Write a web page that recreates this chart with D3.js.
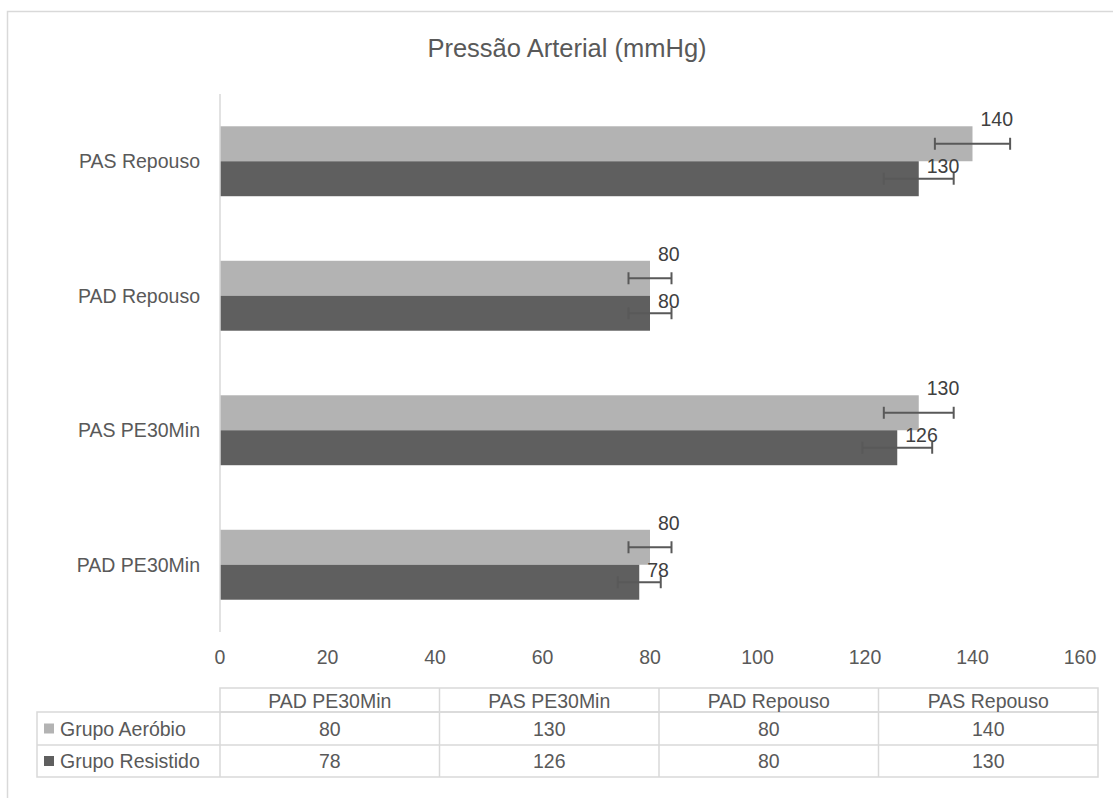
<!DOCTYPE html>
<html>
<head>
<meta charset="utf-8">
<script src="https://cdn.jsdelivr.net/npm/d3@7"></script>
<style>
  html, body { margin: 0; padding: 0; background: #fff; }
  svg { display: block; font-family: "Liberation Sans", Arial, sans-serif; }
</style>
</head>
<body>
<svg id="chart" width="1113" height="798"></svg>
<script>
// ---- Data (Excel category order: bottom to top in the chart, left to right in the table) ----
const categories = ["PAD PE30Min", "PAS PE30Min", "PAD Repouso", "PAS Repouso"];
const seriesNames = ["Grupo Aeróbio", "Grupo Resistido"];
const aerobio = [80, 130, 80, 140];
const resistido = [78, 126, 80, 130];
const errAerobio = [4, 6.5, 4, 7];
const errResistido = [4, 6.5, 4, 6.5];
const xTicks = [0, 20, 40, 60, 80, 100, 120, 140, 160];
const title = "Pressão Arterial (mmHg)";

const colors = ["#b3b3b3", "#5f5f5f"];
const textColor = "#595959";
const lineColor = "#d9d9d9";

const svg = d3.select("#chart");

// outer chart frame
svg.append("path")
  .attr("d", "M7.5,798 V11.5 H1113")
  .attr("fill", "none").attr("stroke", lineColor).attr("stroke-width", 1.5);

// title
svg.append("text")
  .attr("x", 567).attr("y", 48)
  .attr("text-anchor", "middle").attr("dominant-baseline", "central")
  .attr("font-size", 25.5).attr("fill", textColor)
  .text(title);

// scales
const x = d3.scaleLinear().domain([0, 160]).range([220, 1080]);
const topToBottom = categories.slice().reverse();
const y = d3.scaleBand().domain(topToBottom).range([94, 632]).padding(0);
const barH = y.bandwidth() * 0.26;

const series = [
  { name: seriesNames[0], values: aerobio, errs: errAerobio, color: colors[0], idx: 0 },
  { name: seriesNames[1], values: resistido, errs: errResistido, color: colors[1], idx: 1 }
];

// bars
series.forEach(s => {
  const g = svg.append("g");
  const data = categories.map((c, i) => ({ c, v: s.values[i], e: s.errs[i] }));
  const barY = d => y(d.c) + y.bandwidth() / 2 - barH + s.idx * barH;

  g.selectAll("rect").data(data).enter().append("rect")
    .attr("x", x(0)).attr("y", barY)
    .attr("width", d => x(d.v) - x(0)).attr("height", barH)
    .attr("fill", s.color);

  // error bars
  const eg = g.selectAll("g.err").data(data).enter().append("g").attr("class", "err")
    .attr("stroke", "#595959").attr("stroke-width", 2);
  eg.append("line")
    .attr("x1", d => x(d.v - d.e)).attr("x2", d => x(d.v + d.e))
    .attr("y1", d => barY(d) + barH / 2).attr("y2", d => barY(d) + barH / 2);
  [-1, 1].forEach(sign => {
    eg.append("line")
      .attr("x1", d => x(d.v + sign * d.e)).attr("x2", d => x(d.v + sign * d.e))
      .attr("y1", d => barY(d) + barH / 2 - 6).attr("y2", d => barY(d) + barH / 2 + 6);
  });

  // data labels
  g.selectAll("text").data(data).enter().append("text")
    .attr("x", d => x(d.v) + 8)
    .attr("y", d => s.idx === 0 ? barY(d) - 7 : barY(d) + 5)
    .attr("dominant-baseline", "central")
    .attr("font-size", 19.5).attr("fill", "#404040")
    .text(d => d.v);
});

// value axis line (vertical at 0)
svg.append("line")
  .attr("x1", x(0)).attr("x2", x(0)).attr("y1", 94).attr("y2", 632)
  .attr("stroke", lineColor).attr("stroke-width", 1.5);

// category labels
svg.append("g").selectAll("text").data(topToBottom).enter().append("text")
  .attr("x", 200).attr("y", d => y(d) + y.bandwidth() / 2)
  .attr("text-anchor", "end").attr("dominant-baseline", "central")
  .attr("font-size", 19.5).attr("fill", textColor)
  .text(d => d);

// x tick labels
svg.append("g").selectAll("text").data(xTicks).enter().append("text")
  .attr("x", d => x(d)).attr("y", 657)
  .attr("text-anchor", "middle").attr("dominant-baseline", "central")
  .attr("font-size", 19.5).attr("fill", textColor)
  .text(d => d);

// ---- data table ----
const tLeft = 220, tRight = 1098, labLeft = 37;
const hTop = 688, hBot = 712, r1Bot = 745, r2Bot = 777;
const colX = d3.scaleBand().domain(categories).range([tLeft, tRight]);
const tg = svg.append("g").attr("stroke", lineColor).attr("stroke-width", 1.5).attr("fill", "none");
// header row
tg.append("rect").attr("x", tLeft).attr("y", hTop).attr("width", tRight - tLeft).attr("height", hBot - hTop);
// body
tg.append("rect").attr("x", labLeft).attr("y", hBot).attr("width", tRight - labLeft).attr("height", r2Bot - hBot);
tg.append("line").attr("x1", labLeft).attr("x2", tRight).attr("y1", r1Bot).attr("y2", r1Bot);
// column dividers
[tLeft].concat(categories.slice(1).map(c => colX(c))).forEach(cx => {
  tg.append("line").attr("x1", cx).attr("x2", cx).attr("y1", cx === tLeft ? hBot : hTop).attr("y2", r2Bot);
});

// header texts
svg.append("g").selectAll("text").data(categories).enter().append("text")
  .attr("x", d => colX(d) + colX.bandwidth() / 2).attr("y", (hTop + hBot) / 2 + 1)
  .attr("text-anchor", "middle").attr("dominant-baseline", "central")
  .attr("font-size", 19.5).attr("fill", textColor)
  .text(d => d);

const rowMid = [(hBot + r1Bot) / 2, (r1Bot + r2Bot) / 2];
series.forEach((s, si) => {
  const rg = svg.append("g");
  rg.append("rect").attr("x", 44).attr("y", rowMid[si] - 5).attr("width", 10).attr("height", 10).attr("fill", s.color);
  rg.append("text").attr("x", 60).attr("y", rowMid[si])
    .attr("dominant-baseline", "central").attr("font-size", 19.5).attr("fill", textColor)
    .text(s.name);
  rg.selectAll("text.v").data(categories).enter().append("text").attr("class", "v")
    .attr("x", d => colX(d) + colX.bandwidth() / 2).attr("y", rowMid[si])
    .attr("text-anchor", "middle").attr("dominant-baseline", "central")
    .attr("font-size", 19.5).attr("fill", textColor)
    .text((d, i) => s.values[i]);
});
</script>
</body>
</html>
